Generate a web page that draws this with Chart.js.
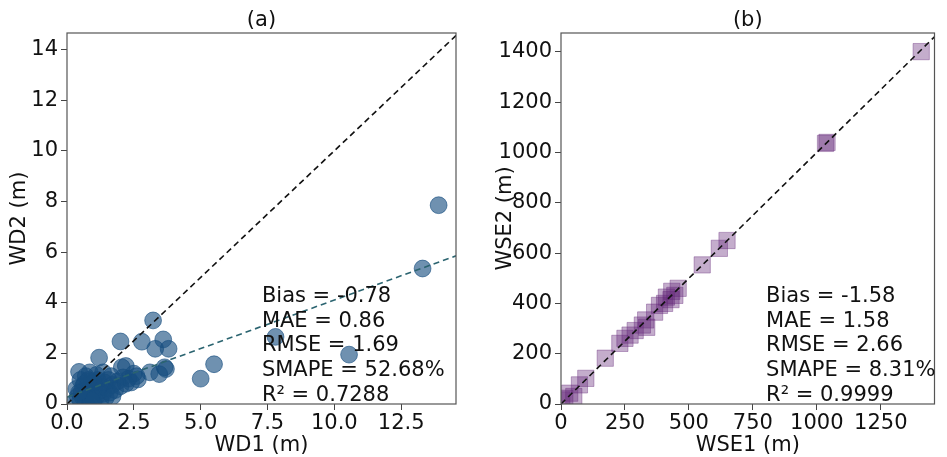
<!DOCTYPE html>
<html>
<head>
<meta charset="utf-8">
<script src="https://cdn.jsdelivr.net/npm/chart.js@4.4.0/dist/chart.umd.min.js"></script>
<style>
  body { margin: 0; background: #fff; }
  canvas { position: absolute; top: 0; }
</style>
</head>
<body>
<canvas id="chartA" width="472" height="457" style="left:0"></canvas>
<canvas id="chartB" width="467" height="457" style="left:480px"></canvas>
<script>
// (a) water depth, WD1 vs WD2
const wdPoints = [
  [13.9, 7.85], [13.3, 5.35], [10.55, 1.95], [7.8, 2.65], [5.5, 1.57], [5.0, 1.0],
  [3.22, 3.3], [2.0, 2.47], [2.8, 2.46], [3.6, 2.55], [3.3, 2.18], [3.8, 2.18],
  [1.2, 1.83], [2.2, 1.5], [2.05, 1.45], [2.65, 0.97], [3.1, 1.25], [3.45, 1.18],
  [3.65, 1.45], [3.7, 1.38], [0.45, 1.27], [0.85, 1.25], [1.35, 1.25], [2.3, 1.0],
  [2.5, 1.2], [2.4, 0.85], [2.6, 1.1], [1.65, 1.1], [1.1, 1.15], [0.7, 1.1],
  [0.3, 0.1], [0.4, 0.3], [0.5, 0.15], [0.55, 0.5], [0.6, 0.25], [0.65, 0.8],
  [0.7, 0.05], [0.75, 0.4], [0.8, 0.6], [0.85, 0.2], [0.9, 0.9], [0.95, 0.35],
  [1.0, 0.1], [1.0, 0.55], [1.05, 0.75], [1.1, 0.3], [1.15, 0.95], [1.2, 0.5],
  [1.25, 0.15], [1.3, 0.7], [1.35, 0.4], [1.4, 0.85], [1.45, 0.25], [1.5, 0.6],
  [1.55, 0.95], [1.6, 0.45], [1.7, 0.75], [1.8, 0.55], [1.9, 0.9], [2.0, 0.7],
  [2.1, 1.05], [2.2, 0.8], [0.35, 0.6], [0.5, 0.95], [0.9, 0.15], [0.6, 0.7],
  [0.45, 0.45], [1.0, 0.85], [0.8, 0.95], [1.7, 0.3]
];
const wdFitLine = [[0, 0.27], [14.55, 5.85]];
const wdTicksX = [0, 2.5, 5, 7.5, 10, 12.5];
const wdTicksY = [0, 2, 4, 6, 8, 10, 12, 14];
const wdStats = ['Bias = -0.78', 'MAE = 0.86', 'RMSE = 1.69', 'SMAPE = 52.68%', 'R² = 0.7288'];

// (b) water surface elevation, WSE1 vs WSE2
const wsePoints = [
  [3, 16], [15, 23], [34, 43], [50, 30], [72, 76], [97, 102], [173, 182],
  [230, 241], [250, 261], [270, 274], [290, 292], [318, 314], [331, 334],
  [335, 305], [366, 365], [385, 392], [405, 400], [412, 425], [430, 415],
  [433, 448], [445, 432], [458, 460], [552, 553], [619, 619], [649, 650],
  [1034, 1036], [1040, 1040], [1408, 1401]
];
const wseTicksX = [0, 250, 500, 750, 1000, 1250];
const wseTicksY = [0, 200, 400, 600, 800, 1000, 1200, 1400];
const wseStats = ['Bias = -1.58', 'MAE = 1.58', 'RMSE = 2.66', 'SMAPE = 8.31%', 'R² = 0.9999'];

const FONT = 'DejaVu Sans';
const FONT_SIZE = 21;

const framePlugin = {
  id: 'frame',
  afterDatasetsDraw(chart, args, opts) {
    const { ctx, chartArea: a } = chart;
    ctx.save();
    ctx.strokeStyle = '#555';
    ctx.lineWidth = 1.2;
    ctx.strokeRect(a.left, a.top, a.right - a.left, a.bottom - a.top);
    ctx.fillStyle = '#111';
    ctx.font = FONT_SIZE + 'px "' + FONT + '"';
    ctx.textBaseline = 'alphabetic';
    ctx.textAlign = 'center';
    ctx.fillText(opts.title, (a.left + a.right) / 2, a.top - 7);
    ctx.textAlign = 'left';
    const x = a.left + opts.statsX * (a.right - a.left);
    opts.stats.forEach((s, i) => ctx.fillText(s, x, 302 + i * 24.7));
    ctx.restore();
  }
};

function makeChart(id, cfg) {
  const xMax = cfg.xMax, yMax = cfg.yMax;
  const datasets = [{
    type: 'line',
    data: [{ x: 0, y: 0 }, { x: Math.max(xMax, yMax), y: Math.max(xMax, yMax) }],
    borderColor: '#111',
    borderWidth: 1.6,
    borderDash: [6, 4],
    pointRadius: 0,
    order: 0
  }];
  if (cfg.fit) {
    datasets.push({
      type: 'line',
      data: cfg.fit.map(p => ({ x: p[0], y: p[1] })),
      borderColor: '#2b6470',
      borderWidth: 1.6,
      borderDash: [6, 4],
      pointRadius: 0,
      order: 0
    });
  }
  datasets.push({
    type: 'scatter',
    data: cfg.points.map(p => ({ x: p[0], y: p[1] })),
    backgroundColor: cfg.color,
    borderColor: cfg.color,
    borderWidth: 1,
    pointStyle: cfg.pointStyle,
    pointRadius: cfg.radius,
    clip: 0,
    order: 1
  });

  const tickFont = { family: FONT, size: FONT_SIZE };
  return new Chart(document.getElementById(id), {
    type: 'scatter',
    data: { datasets },
    plugins: [framePlugin],
    options: {
      responsive: false,
      animation: false,
      events: [],
      layout: { padding: { top: 33, right: cfg.padRight, left: 0, bottom: 0 } },
      plugins: {
        legend: { display: false },
        tooltip: { enabled: false },
        frame: { title: cfg.title, stats: cfg.stats, statsX: cfg.statsX }
      },
      scales: {
        x: {
          type: 'linear',
          min: 0,
          max: xMax,
          afterFit: s => { s.height = 53; },
          afterBuildTicks: s => { s.ticks = cfg.ticksX.map(v => ({ value: v })); },
          grid: { drawOnChartArea: false, drawTicks: true, tickLength: 6, color: '#444' },
          border: { display: false },
          ticks: {
            font: tickFont, color: '#111', padding: 1, maxRotation: 0, autoSkip: false,
            callback: cfg.fmtX
          },
          title: { display: true, text: cfg.xTitle, font: tickFont, color: '#111', padding: { top: 0, bottom: -1 } }
        },
        y: {
          type: 'linear',
          min: 0,
          max: yMax,
          afterFit: s => { s.width = cfg.yAxisWidth; },
          afterBuildTicks: s => { s.ticks = cfg.ticksY.map(v => ({ value: v })); },
          grid: { drawOnChartArea: false, drawTicks: true, tickLength: 6, color: '#444' },
          border: { display: false },
          ticks: {
            font: tickFont, color: '#111', padding: 3, autoSkip: false,
            callback: v => String(v)
          },
          title: { display: true, text: cfg.yTitle, font: tickFont, color: '#111', padding: { top: cfg.yTitlePad, bottom: 0 } }
        }
      }
    }
  });
}

makeChart('chartA', {
  points: wdPoints,
  fit: wdFitLine,
  xMax: 14.55,
  yMax: 14.65,
  ticksX: wdTicksX,
  ticksY: wdTicksY,
  fmtX: v => v.toFixed(1),
  xTitle: 'WD1 (m)',
  yTitle: 'WD2 (m)',
  yAxisWidth: 67,
  yTitlePad: 7,
  padRight: 16,
  color: 'rgba(22, 78, 128, 0.62)',
  pointStyle: 'circle',
  radius: 8.4,
  title: '(a)',
  stats: wdStats,
  statsX: 0.501
});

makeChart('chartB', {
  points: wsePoints,
  fit: null,
  xMax: 1460,
  yMax: 1475,
  ticksX: wseTicksX,
  ticksY: wseTicksY,
  fmtX: v => String(v),
  xTitle: 'WSE1 (m)',
  yTitle: 'WSE2 (m)',
  yAxisWidth: 81,
  yTitlePad: 13,
  padRight: 2,
  color: 'rgba(100, 40, 120, 0.38)',
  pointStyle: 'rect',
  radius: 11.5,
  title: '(b)',
  stats: wseStats,
  statsX: 0.549
});
</script>
</body>
</html>
